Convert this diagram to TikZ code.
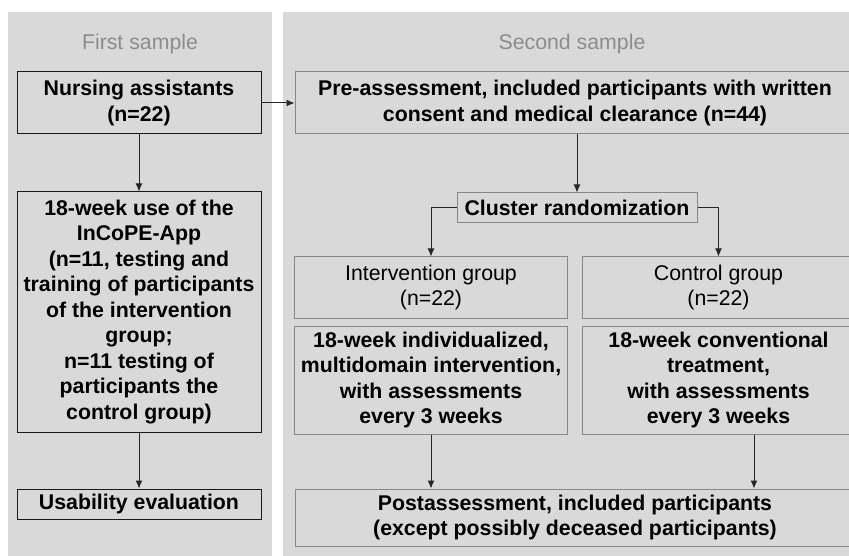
\documentclass[tikz,border=0pt]{standalone}
\usepackage{fontspec}
\setmainfont{Liberation Sans}
\usetikzlibrary{positioning,arrows.meta}
\definecolor{panelgray}{RGB}{217,217,217}
\definecolor{titlegray}{RGB}{140,140,140}
\definecolor{boxgray}{RGB}{135,135,135}
\tikzset{
>={Latex[length=8pt,width=7pt]},
  paneltitle/.style={
    text=titlegray,
    font=\fontsize{21.3}{25.5}\selectfont},
  firstbox/.style={
    rectangle,
    draw=black!90, line width=1pt,
    inner sep=0pt,
    align=center,
    font=\fontsize{21.3}{25.5}\selectfont\bfseries},
  secondbox/.style={firstbox, draw=boxgray},
  groupbox/.style={secondbox, font=\fontsize{21.3}{25.5}\selectfont},
  line/.style={draw, line width=1pt, black!85, ->},
}
\begin{document}
\begin{tikzpicture}[x=1pt, y=-1pt]
		\useasboundingbox (0,0) rectangle (849,556);
		\fill[panelgray] (8,12) rectangle (272,560);
		\fill[panelgray] (283,12) rectangle (870,560);
		\node[paneltitle] (first) at (140,44) {First sample};
		\node[paneltitle] (second) at (572,44) {Second sample};
		% first sample
		\node[firstbox, minimum width=244pt, minimum height=62pt] (nursing) at (139,103) {Nursing assistants\\(n=22)};
		\node[firstbox, minimum width=244pt, minimum height=240pt] (app) at (139,312) {18-week use of the\\InCoPE-App\\(n=11, testing and\\training of participants\\of the intervention\\group;\\n=11 testing of\\participants the\\control group)};
		\node[firstbox, minimum width=244pt, minimum height=30pt] (usability) at (139,504) {Usability evaluation};
		% second sample
		\node[secondbox, minimum width=560pt, minimum height=62pt] (pre) at (575,103) {Pre-assessment, included participants with written\\consent and medical clearance (n=44)};
		\node[secondbox, minimum width=240pt, minimum height=30pt] (cluster) at (577,208) {Cluster randomization};
		\node[groupbox, minimum width=273pt, minimum height=61pt] (intv) at (431,287.5) {Intervention group\\(n=22)};
		\node[groupbox, minimum width=273pt, minimum height=61pt] (ctrl) at (718.5,287.5) {Control group\\(n=22)};
		\node[secondbox, minimum width=273pt, minimum height=108pt] (intv-plan) at (431,380) {18-week individualized,\\multidomain intervention,\\with assessments\\every 3 weeks};
		\node[secondbox, minimum width=273pt, minimum height=108pt] (ctrl-plan) at (718.5,380) {18-week conventional\\treatment,\\with assessments\\every 3 weeks};
		\node[secondbox, minimum width=560pt, minimum height=57pt] (post) at (575,517.5) {Postassessment, included participants\\(except possibly deceased participants)};
		\coordinate (ctrl-out) at ([xshift=35.5pt]ctrl-plan.south);
		% connectors
		\draw[line] (nursing.east) -- (pre.west);
		\draw[line] (nursing) -- (app);
		\draw[line] (app) -- (usability);
		\draw[line] (pre.south -| cluster.north) -- (cluster);
		\draw[line] (cluster.west) -| (intv.north);
		\draw[line] (cluster.east) -| (ctrl.north);
		\draw[line] (intv-plan.south) -- (intv-plan.south |- post.north);
		\draw[line] (ctrl-out) -- (ctrl-out |- post.north);
	\end{tikzpicture}
\end{document}
